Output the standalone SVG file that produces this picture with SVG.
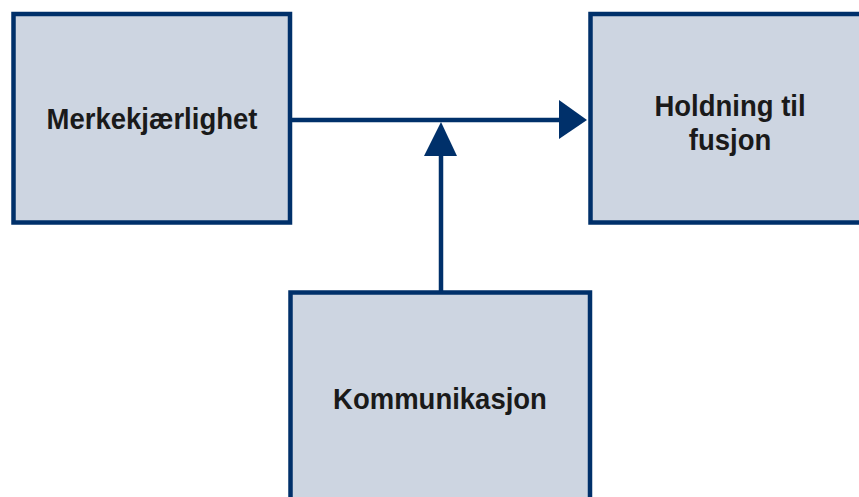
<svg xmlns="http://www.w3.org/2000/svg" width="859" height="497" viewBox="0 0 859 497">
  <style>
    .box { fill: #CDD5E1; stroke: #00306A; stroke-width: 4.5; }
    .lbl { font-family: "Liberation Sans", Arial, sans-serif; font-weight: bold; font-size: 27.5px; fill: #1a1a1a; text-anchor: middle; }
    .line { stroke: #00306A; stroke-width: 4.5; fill: none; }
    .head { fill: #00306A; }
  </style>
  <rect width="859" height="497" fill="#FFFFFF"/>
  <g id="connectors">
    <line class="line" x1="292" y1="120" x2="562" y2="120"/>
    <polygon class="head" points="587,120 559,100 559,139"/>
    <line class="line" x1="441" y1="292" x2="441" y2="152"/>
    <polygon class="head" points="441,122 424,156 457,156"/>
  </g>
  <g id="node-merkekjaerlighet">
    <rect class="box" x="13.5" y="14" width="276.5" height="208.5"/>
    <text class="lbl" transform="translate(152,129) scale(1,1.1)">Merkekjærlighet</text>
  </g>
  <g id="node-holdning">
    <rect class="box" x="590.5" y="14" width="300" height="208.5"/>
    <text class="lbl" transform="translate(730,116) scale(1,1.1)">Holdning til</text>
    <text class="lbl" transform="translate(730,150) scale(1,1.1)">fusjon</text>
  </g>
  <g id="node-kommunikasjon">
    <rect class="box" x="290.5" y="292.5" width="299.5" height="250"/>
    <text class="lbl" transform="translate(440,409) scale(1,1.1)">Kommunikasjon</text>
  </g>
</svg>
